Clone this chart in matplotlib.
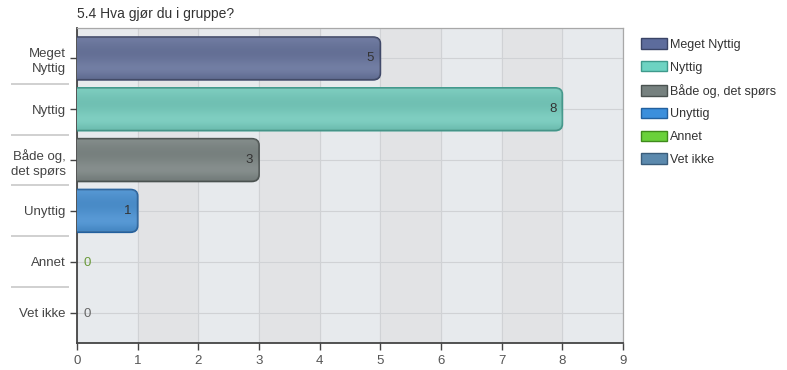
import numpy as np
import matplotlib.pyplot as plt
import matplotlib.transforms as mtransforms
from matplotlib.patches import FancyBboxPatch, Patch

plt.rcParams['font.family'] = ['Liberation Sans', 'DejaVu Sans']

# data
categories = ['Meget\nNyttig', 'Nyttig', 'Både og,\ndet spørs', 'Unyttig', 'Annet', 'Vet ikke']
legend_labels = ['Meget Nyttig', 'Nyttig', 'Både og, det spørs', 'Unyttig', 'Annet', 'Vet ikke']
counts = [5, 8, 3, 1, 0, 0]
colors = ['#5d6c9c', '#6dd3c2', '#76817f', '#3b8fdc', '#6ad13a', '#5b89ad']
edges = ['#3a4466', '#3f9a8c', '#4a5250', '#22609e', '#3f8a1c', '#3a5c7a']
zero_colors = ['#555555', '#555555', '#555555', '#555555', '#6a9a3a', '#666666']

fig = plt.figure(figsize=(7.87, 3.70), dpi=100)
ax = fig.add_axes([0.0978, 0.073, 0.6938, 0.8514])

ax.set_facecolor('#e7eaed')

# alternating column shading
for i in range(1, 9, 2):
    ax.axvspan(i, i + 1, color='#e2e3e5', zorder=0)

ax.set_xticks(range(10))
ax.grid(True, color='#d0d2d5', linewidth=0.8, zorder=0.5)
ax.set_axisbelow(True)

ypos = np.arange(len(categories))
bars = ax.barh(ypos, counts, height=0.84, color='none', edgecolor='none')

aspect = 50.9 / 60.7
for bar, c, e, v in zip(bars, colors, edges, counts):
    if v == 0:
        continue
    x0, y0 = bar.get_x(), bar.get_y()
    w, h = bar.get_width(), bar.get_height()
    box = FancyBboxPatch((x0 - 0.2, y0), w + 0.2, h,
                         boxstyle='round,pad=0,rounding_size=0.12',
                         mutation_aspect=1 / aspect * 0.9,
                         facecolor=c, edgecolor=e, linewidth=1.3, zorder=3)
    ax.add_patch(box)
    # vertical sheen
    grad = np.array([0.2, 0.0, -0.15, -0.2, -0.05, 0.15, 0.3, 0.15, -0.3]).reshape(-1, 1)
    im = ax.imshow(grad, extent=(x0 - 0.2, x0 + w, y0 + h, y0), cmap='Greys_r',
                   vmin=-1, vmax=1, alpha=0.22, aspect='auto', zorder=3.5,
                   interpolation='bicubic')
    im.set_clip_path(box)

ax.set_xlim(0, 9)
ax.set_ylim(5.6, -0.6)

# value labels
for y, v, zc in zip(ypos, counts, zero_colors):
    if v > 0:
        ax.text(v - 0.1, y, str(v), ha='right', va='center', fontsize=9.5,
                color='#333333', zorder=5)
    else:
        ax.text(0.1, y + 0.03, str(v), ha='left', va='center', fontsize=9.5,
                color=zc, zorder=5)

ax.set_yticks(ypos)
ax.set_yticklabels(categories, fontsize=9.5, color='#444444', linespacing=1.35)
ax.tick_params(axis='y', length=5, width=1, color='#444444', pad=3)
ax.tick_params(axis='x', length=5, width=1, color='#444444', labelsize=9.5,
               labelcolor='#555555', pad=4)

# separators between category labels
trans = mtransforms.blended_transform_factory(ax.transAxes, ax.transData)
for b in np.arange(0.5, len(categories) - 1, 1):
    ax.plot([-0.12, -0.015], [b, b], transform=trans, color='#c8c8c8',
            linewidth=1.2, clip_on=False, solid_capstyle='butt')

for s in ['left', 'bottom']:
    ax.spines[s].set_color('#444444')
    ax.spines[s].set_linewidth(1.3)
for s in ['top', 'right']:
    ax.spines[s].set_color('#a8a8a8')
    ax.spines[s].set_linewidth(0.9)

fig.text(0.0978, 0.962, '5.4 Hva gjør du i gruppe?', fontsize=10,
         color='#333333', ha='left', va='center')

handles = [Patch(facecolor=c, edgecolor=e, linewidth=1.0) for c, e in zip(colors, edges)]
fig.legend(handles, legend_labels, loc='upper left', bbox_to_anchor=(0.808, 0.91),
           frameon=False, fontsize=9, handlelength=2.1, handleheight=0.9,
           handletextpad=0.25, labelspacing=0.82, borderaxespad=0,
           labelcolor='#333333')

fig.savefig('out.png', dpi=100)
